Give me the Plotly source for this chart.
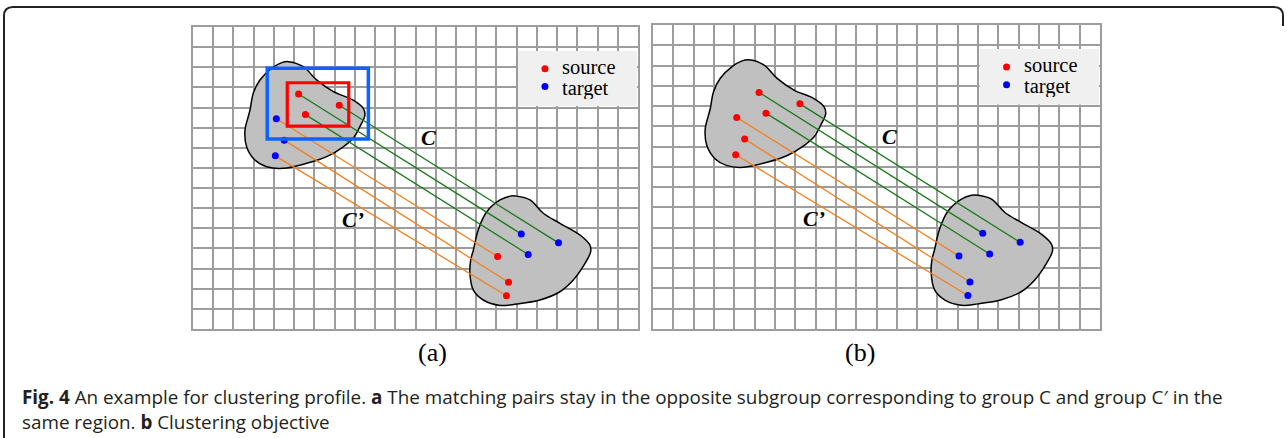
import plotly.graph_objects as go

W, H = 1287, 438

# Grid size of each panel (cells)
GRID_COLS = 22
GRID_ROWS = 15

# Matched point positions in grid units (x to the right, y downward)
upper_x = [5.22, 7.23, 5.56, 4.12, 4.51, 4.07]
upper_y = [3.33, 3.89, 4.35, 4.56, 5.62, 6.40]
lower_x = [16.23, 18.07, 16.57, 15.06, 15.60, 15.50]
lower_y = [10.28, 10.72, 11.30, 11.40, 12.68, 13.35]
pair_group = ["C", "C", "C", "C'", "C'", "C'"]

# Role of each point per panel
roles_a_upper = ["source", "source", "source", "target", "target", "target"]
roles_a_lower = ["target", "target", "target", "source", "source", "source"]
roles_b_upper = ["source"] * 6
roles_b_lower = ["target"] * 6

# Outline of the two regions (grid units)
blob_upper_x = [4.71, 5.45, 6.11, 6.94, 7.92, 8.42, 8.50, 8.25, 7.92, 7.43, 6.61,
                5.62, 4.46, 3.64, 3.06, 2.65, 2.57, 2.73, 2.82, 2.98, 3.31, 3.89, 4.39]
blob_upper_y = [1.72, 1.97, 2.63, 3.21, 3.63, 4.04, 4.37, 4.95, 5.53, 5.95, 6.44,
                6.77, 7.02, 6.94, 6.61, 5.95, 5.12, 4.46, 4.12, 3.29, 2.63, 2.05, 1.77]
blob_lower_x = [16.00, 16.66, 17.32, 18.14, 19.13, 19.62, 19.66, 19.38, 18.80, 18.14, 17.15,
                16.00, 15.18, 14.35, 13.86, 13.69, 13.73, 13.86, 14.10, 14.52, 15.18, 15.67]
blob_lower_y = [8.40, 8.59, 9.25, 9.75, 10.33, 10.83, 11.16, 11.74, 12.57, 13.15, 13.56,
                13.76, 13.83, 13.56, 13.07, 12.24, 11.57, 11.08, 10.08, 9.18, 8.59, 8.40]

# Selection boxes in panel (a): [x0, x1, y0, y1]
outer_box = [3.67, 8.67, 2.05, 5.56]
inner_box = [4.66, 7.70, 2.77, 4.92]

legend_labels = ["source", "target"]
group_labels = {"C": "C", "C'": "C\u2019"}
panel_labels = ["(a)", "(b)"]
caption_lines = [
    "<b>Fig. 4</b> An example for clustering profile. <b>a</b> The matching pairs stay in the "
    "opposite subgroup corresponding to group C and group C\u2032 in the",
    "same region. <b>b</b> Clustering objective",
]

ROLE_COLOR = {"source": "#ff0000", "target": "#0000ff"}
GROUP_COLOR = {"C": "#1b7a1b", "C'": "#f2801f"}
GRID_COLOR = "#9d9d9d"
SERIF = "Liberation Serif"

# Panel placement in pixels: (left, right, top, bottom)
panels = [(193, 638, 27, 329), (653, 1100, 25, 329)]


def px(x):
    return x / W


def py(y):
    return 1 - y / H


fig = go.Figure()

for i, (left, right, top, bottom) in enumerate(panels):
    sfx = "" if i == 0 else str(i + 1)
    xa, ya = "x" + sfx, "y" + sfx
    axis_style = dict(showgrid=True, dtick=1, tick0=0, gridcolor=GRID_COLOR, gridwidth=2,
                      showline=True, mirror=True, linecolor=GRID_COLOR, linewidth=2,
                      showticklabels=False, ticks="", zeroline=False, fixedrange=True)
    fig.update_layout({
        "xaxis" + sfx: dict(domain=[px(left), px(right)], range=[0, GRID_COLS],
                            anchor=ya, **axis_style),
        "yaxis" + sfx: dict(domain=[py(bottom), py(top)], range=[GRID_ROWS, 0],
                            anchor=xa, **axis_style),
    })

    # regions
    for bx, by in ((blob_upper_x, blob_upper_y), (blob_lower_x, blob_lower_y)):
        fig.add_trace(go.Scatter(x=bx + bx[:1], y=by + by[:1], mode="lines",
                                 fill="toself", fillcolor="#c0c0c0",
                                 line=dict(color="black", width=1.5, shape="spline"),
                                 xaxis=xa, yaxis=ya, showlegend=False, hoverinfo="skip"))

    # matching lines
    for g in ("C", "C'"):
        lx, ly = [], []
        for k in range(len(upper_x)):
            if pair_group[k] == g:
                lx += [upper_x[k], lower_x[k], None]
                ly += [upper_y[k], lower_y[k], None]
        fig.add_trace(go.Scatter(x=lx, y=ly, mode="lines",
                                 line=dict(color=GROUP_COLOR[g], width=1.3),
                                 xaxis=xa, yaxis=ya, showlegend=False, hoverinfo="skip"))

    # points
    ru, rl = (roles_a_upper, roles_a_lower) if i == 0 else (roles_b_upper, roles_b_lower)
    px_all = upper_x + lower_x
    py_all = upper_y + lower_y
    roles = ru + rl
    for role in ("source", "target"):
        sx = [px_all[k] for k in range(len(roles)) if roles[k] == role]
        sy = [py_all[k] for k in range(len(roles)) if roles[k] == role]
        fig.add_trace(go.Scatter(x=sx, y=sy, mode="markers",
                                 marker=dict(color=ROLE_COLOR[role], size=7),
                                 xaxis=xa, yaxis=ya, showlegend=False, name=role))

    # group labels
    for g, (gx, gy) in (("C", (11.65, 5.5)), ("C'", (7.9, 9.55))):
        fig.add_annotation(x=gx, y=gy, xref=xa, yref=ya, text="<b><i>%s</i></b>" % group_labels[g],
                           showarrow=False, font=dict(family=SERIF, size=22, color="black"))

    # key box
    fig.add_shape(type="rect", xref=xa, yref=ya, x0=16.07, x1=21.95, y0=1.19, y1=3.92,
                  fillcolor="#f0f0f0", line=dict(width=0), layer="between")
    for j, lab in enumerate(legend_labels):
        dot_y = 2.07 + j * 0.88
        text_y = 1.97 + j * 1.08
        fig.add_trace(go.Scatter(x=[17.4], y=[dot_y], mode="markers",
                                 marker=dict(color=ROLE_COLOR[lab], size=7),
                                 xaxis=xa, yaxis=ya, showlegend=False, hoverinfo="skip"))
        fig.add_annotation(x=18.2, y=text_y, xref=xa, yref=ya, text=lab, showarrow=False,
                           xanchor="left", yanchor="middle", height=21, borderpad=0,
                           font=dict(family=SERIF, size=20.5, color="black"))

    fig.add_annotation(x=px((left + right) / 2), y=py(352), xref="paper", yref="paper",
                       text=panel_labels[i], showarrow=False, yanchor="middle",
                       font=dict(family=SERIF, size=26, color="black"))

# selection boxes in panel (a)
for box, col, w in ((outer_box, "#0a64ff", 3.5), (inner_box, "#ff0000", 3.2)):
    fig.add_shape(type="rect", xref="x", yref="y", x0=box[0], x1=box[1], y0=box[2], y1=box[3],
                  line=dict(color=col, width=w), fillcolor="rgba(0,0,0,0)")

# caption, as one two-line text block
fig.add_annotation(x=px(20), y=py(409.5), xref="paper", yref="paper",
                   text="<br>".join(caption_lines),
                   showarrow=False, xanchor="left", yanchor="middle", align="left",
                   font=dict(family="Open Sans", size=18.85, color="#231f20"))

# outer frame
frame = ("M {a},{b} L {a},{c} Q {a},{d} {e},{d} L {f},{d} Q {g},{d} {g},{c} L {g},{h}").format(
    a=px(4), b=py(450), c=py(16), d=py(7), e=px(13), f=px(1274), g=px(1283), h=py(26))
fig.add_shape(type="path", xref="paper", yref="paper", path=frame,
              line=dict(color="#222222", width=2))

fig.update_layout(width=W, height=H, margin=dict(l=0, r=0, t=0, b=0),
                  paper_bgcolor="white", plot_bgcolor="white", showlegend=False)

fig.write_html("out.html")
